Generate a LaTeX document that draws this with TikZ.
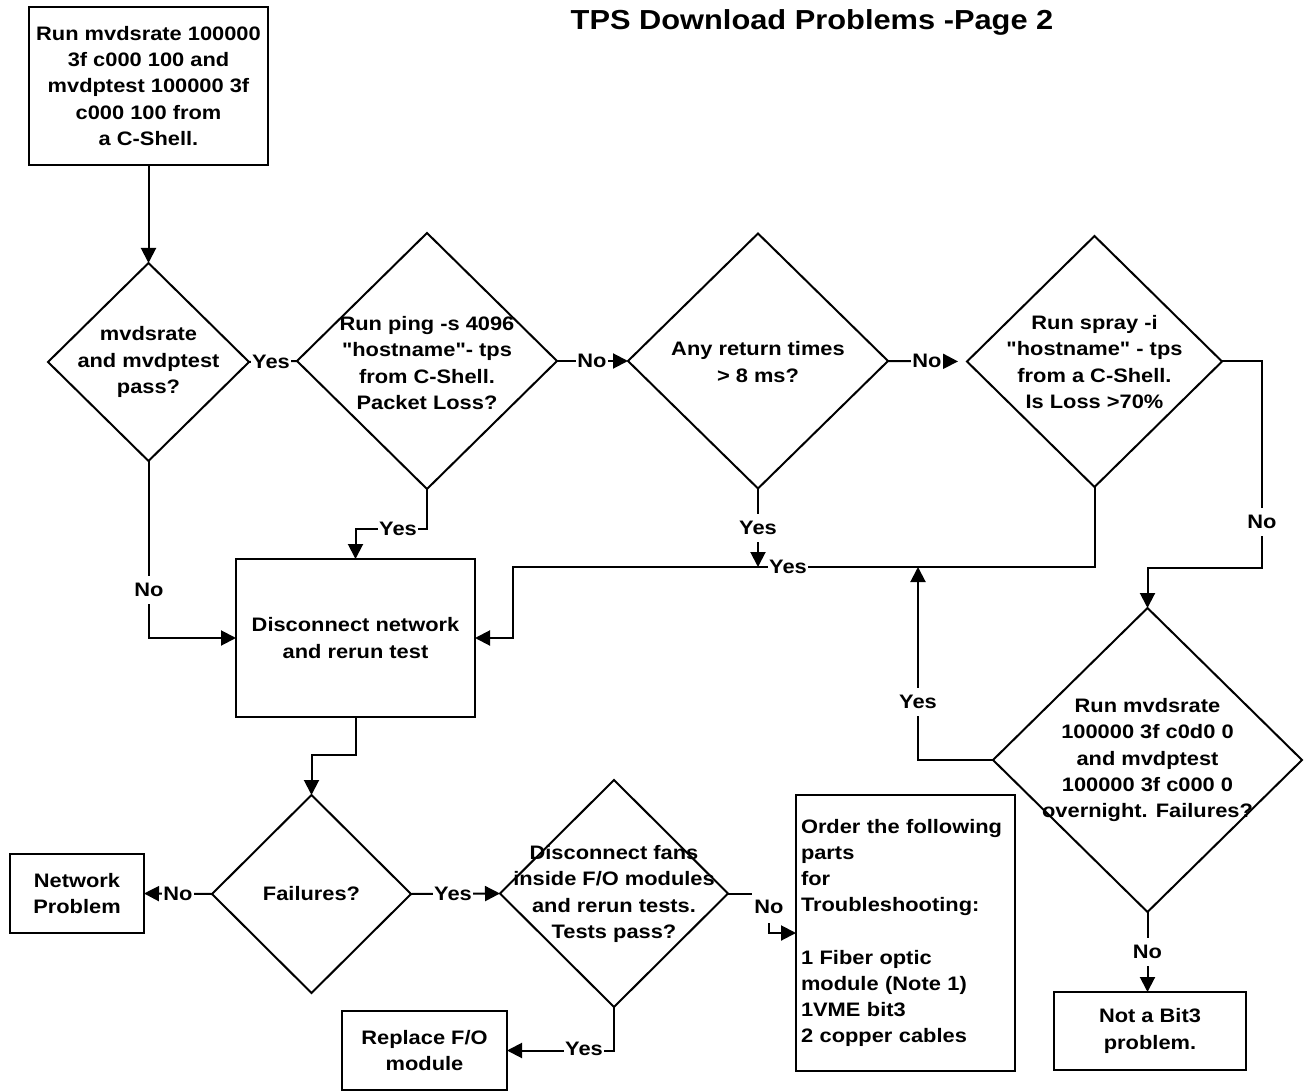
\documentclass[tikz,border=0pt]{standalone}
\usepackage{fontspec}
\setmainfont{Liberation Sans}[FakeStretch=1.12, Ligatures=TeXOff]
\usetikzlibrary{arrows.meta,shapes.geometric}
\begin{document}
\begin{tikzpicture}[x=1pt,y=-1pt,
  line width=2pt,
  every node/.style={outer sep=0pt},
  txt/.style={font=\fontsize{19.5}{26.2}\selectfont\bfseries, align=center, inner sep=0pt},
  box/.style={draw, line width=2pt, rectangle, txt},
  dia/.style={draw, diamond, line width=2pt, inner sep=0pt},
  lbl/.style={font=\fontsize{19.5}{26.2}\selectfont\bfseries, fill=white, inner xsep=1.5pt, inner ysep=2pt},
  lblv/.style={lbl, inner ysep=7pt},
  arr/.style={-{Triangle[length=15pt,width=15pt]}}
]
\fill[white] (0,0) rectangle (1307,1091);
\path[use as bounding box] (0,0) rectangle (1307,1091);

% title
\node[font=\fontsize{27.5}{33}\selectfont\bfseries] (T) at (812,22) {TPS Download Problems -Page 2};

% boxes
\node[box, minimum width=239pt, minimum height=158pt] (S) at (148.5,86)
  {Run mvdsrate 100000\\3f c000 100 and\\mvdptest 100000 3f\\c000 100 from\\a C-Shell.};
\node[box, minimum width=239pt, minimum height=158pt] (B2) at (355.5,638)
  {Disconnect network\\and rerun test};
\node[box, minimum width=134pt, minimum height=79pt] (NP) at (77,893.5)
  {Network\\Problem};
\node[box, minimum width=165pt, minimum height=79pt] (RB) at (424.5,1050.5)
  {Replace F/O\\module};
\node[box, minimum width=192pt, minimum height=78pt] (NB) at (1150,1031)
  {Not a Bit3\\problem.};
\node[box, align=left, text width=209pt, inner xsep=5pt, minimum height=276pt] (PB) at (905.5,933)
  {Order the following\\parts\\for\\Troubleshooting:\\[26.2pt]1 Fiber optic\\module (Note 1)\\1VME bit3\\2 copper cables};

% diamonds
\node[dia, minimum width=201pt, minimum height=198pt] (D1) at (148.5,362) {};
\node[dia, minimum width=260pt, minimum height=256pt] (D2) at (427,361) {};
\node[dia, minimum width=260pt, minimum height=255pt] (D3) at (758,361) {};
\node[dia, minimum width=255pt, minimum height=251pt] (D4) at (1094.5,361.5) {};
\node[dia, minimum width=309pt, minimum height=304pt] (D5) at (1147.5,760) {};
\node[dia, minimum width=199pt, minimum height=198pt] (D6) at (311.5,894) {};
\node[dia, minimum width=228pt, minimum height=227pt] (D7) at (614,893.5) {};

\node[txt] (D1t) at (D1.center) {mvdsrate\\and mvdptest\\pass?};
\node[txt] (D2t) at (427,363) {Run ping -s 4096\\"hostname"- tps\\from C-Shell.\\Packet Loss?};
\node[txt] (D3t) at (758,362) {Any return times\\> 8 ms?};
\node[txt] (D4t) at (1094.5,362) {Run spray -i\\"hostname" - tps\\from a C-Shell.\\Is Loss >70\%};
\node[txt] (D5t) at (1147.5,760) {Run mvdsrate\\100000 3f c0d0 0\\and mvdptest\\100000 3f c000 0\\overnight. Failures?};
\node[txt] (D6t) at (D6.center) {Failures?};
\node[txt] (D7t) at (614,894) {Disconnect fans\\inside F/O modules\\and rerun tests.\\Tests pass?};

% bend coordinates
\coordinate (c1) at (1262,568);
\coordinate (j1) at (1094.5,567);
\coordinate (j2) at (513,567);
\coordinate (j3) at (918,567);
\coordinate (c4) at (427,529);
\coordinate (c5) at (355.5,755);
\coordinate (c6) at (769,893.5);

% connectors
\draw[arr] (S.south) -- (D1.north);
\draw (D1.east) -- (D2.west);
\draw[arr] (D2.east) -- (D3.west);
\draw[arr, shorten >=9pt] (D3.east) -- (D4.west);
\draw[arr] (D4.east) -| (c1) -| (D5.north);
\draw[arr] (D4.south) -- (j1) -- (j2) |- (B2.east);
\draw[arr] (D3.south) -- (D3.south |- j1);
\draw[arr] (D5.west) -| (j3);
\draw[arr] (D2.south) -- (c4) -| (B2.north);
\draw[arr] (D1.south) |- (B2.west);
\draw[arr] (B2.south) -- (c5) -| (D6.north);
\draw[arr] (D6.west) -- (NP.east);
\draw[arr] (D6.east) -- (D7.west);
\draw[arr] (D7.east) -- (c6) |- (PB.west);
\draw[arr] (D7.south) |- (RB.east);
\draw[arr] (D5.south) -- (D5.south |- NB.north);

% labels
\node[lbl] (l1) at (271,362) {Yes};
\node[lbl] (l2) at (592,361) {No};
\node[lbl] (l3) at (927,361) {No};
\node[lblv] (l4) at (1262,522) {No};
\node[lblv] (l5) at (918,702) {Yes};
\node[lbl] (l6) at (788,567) {Yes};
\node[lblv] (l7) at (758,528) {Yes};
\node[lbl] (l8) at (398,529) {Yes};
\node[lblv] (l9) at (149,590) {No};
\node[lbl] (l10) at (178,894) {No};
\node[lbl] (l11) at (453,894) {Yes};
\node[lbl, minimum height=32pt, inner xsep=2pt] (l12) at (769,907) {No};
\node[lbl] (l13) at (584,1049) {Yes};
\node[lblv] (l14) at (1147.5,952) {No};
\end{tikzpicture}
\end{document}
